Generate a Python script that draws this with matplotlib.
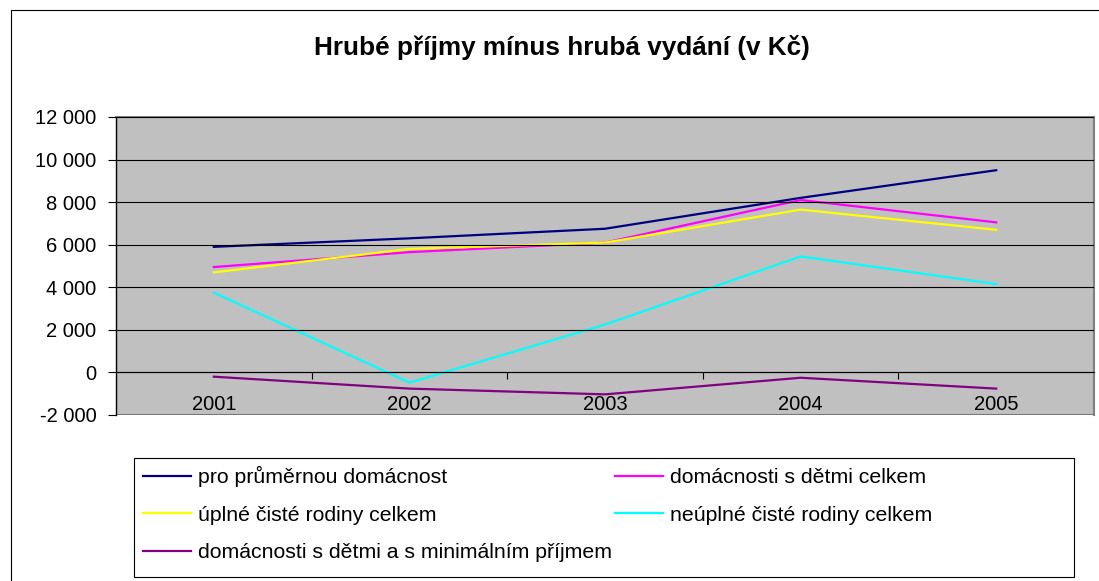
import matplotlib
matplotlib.use("Agg")
import matplotlib.pyplot as plt
from matplotlib.patches import Rectangle
from matplotlib.ticker import FuncFormatter, FixedLocator

plt.rcParams['font.family'] = ['Liberation Sans', 'DejaVu Sans']

# data
years = ['2001', '2002', '2003', '2004', '2005']
prumerna = [5900, 6300, 6750, 8200, 9500]
s_detmi = [4950, 5650, 6100, 8100, 7050]
uplne = [4700, 5800, 6100, 7650, 6700]
neuplne = [3750, -480, 2250, 5450, 4150]
minimalni = [-200, -760, -1030, -250, -760]

series = [
    ('pro průměrnou domácnost', prumerna, '#000080'),
    ('domácnosti s dětmi celkem', s_detmi, '#FF00FF'),
    ('úplné čisté rodiny celkem', uplne, '#FFFF00'),
    ('neúplné čisté rodiny celkem', neuplne, '#00FFFF'),
    ('domácnosti s dětmi a s minimálním příjmem', minimalni, '#800080'),
]

W, H = 1099, 581
fig = plt.figure(figsize=(W / 100, H / 100), dpi=100)

# chart frame (runs off the right and bottom edge like the original)
fig.patches.append(Rectangle((10.5 / W, -0.2), 1.2, 1.2 - 9.5 / H,
                             transform=fig.transFigure, fill=False,
                             edgecolor='black', linewidth=0.8))

ax = fig.add_axes([116 / W, 1 - 415 / H, 978 / W, 298 / H])
ax.set_facecolor('#C0C0C0')

x = list(range(len(years)))
lines = {}
for name, vals, col in series:
    lines[name], = ax.plot(x, vals, color=col, linewidth=1.6, label=name)

ax.set_xlim(-0.5, len(years) - 0.5)
ax.set_ylim(-2000, 12000)
ax.set_yticks(range(-2000, 12001, 2000))
ax.yaxis.set_major_formatter(FuncFormatter(lambda v, p: f'{int(v):,}'.replace(',', ' ')))
ax.grid(axis='y', color='black', linewidth=0.8)
ax.set_axisbelow(False)
for ln in ax.get_ygridlines():
    ln.set_zorder(0.5)

# x axis sits on zero
ax.spines['bottom'].set_position(('data', 0))
ax.spines['bottom'].set_color('black')
ax.spines['bottom'].set_linewidth(0.8)
ax.spines['left'].set_color('black')
ax.spines['left'].set_linewidth(1.0)
ax.spines['top'].set_color('#808080')
ax.spines['right'].set_color('#808080')
ax.spines['top'].set_linewidth(1.5)
ax.spines['right'].set_linewidth(1.5)

ax.set_xticks(x)
ax.set_xticklabels(years)
ax.xaxis.set_minor_locator(FixedLocator([i + 0.5 for i in x[:-1]]))
ax.tick_params(axis='x', which='major', length=0, pad=16, labelsize=14.5)
ax.tick_params(axis='x', which='minor', length=5, direction='out', width=0.8)
ax.tick_params(axis='y', length=6, width=0.8, pad=8, labelsize=14.5)

# bottom edge of the plot area
ax.axhline(-2000, color='#808080', linewidth=1.5, zorder=0.6)

fig.text(562 / W, 1 - 47 / H, 'Hrubé příjmy mínus hrubá vydání (v Kč)',
         ha='center', va='center', fontsize=18.8, fontweight='bold')

# legend box
fig.patches.append(Rectangle((134 / W, 1 - 577 / H), 940 / W, 119.5 / H,
                             transform=fig.transFigure, fill=False,
                             edgecolor='black', linewidth=0.8))

# legend filled row by row like the original (matplotlib fills by column)
order = [series[0][0], series[2][0], series[4][0], series[1][0], series[3][0]]
leg = fig.legend([lines[n] for n in order], order, loc='upper left', ncol=2,
                 bbox_to_anchor=(134 / W, 1 - 457.5 / H),
                 fontsize=15.3, frameon=False,
                 handlelength=2.26, handletextpad=0.33, borderaxespad=0,
                 labelspacing=0.88, borderpad=0.4, columnspacing=0.15)

fig.savefig('out.png', dpi=100)
